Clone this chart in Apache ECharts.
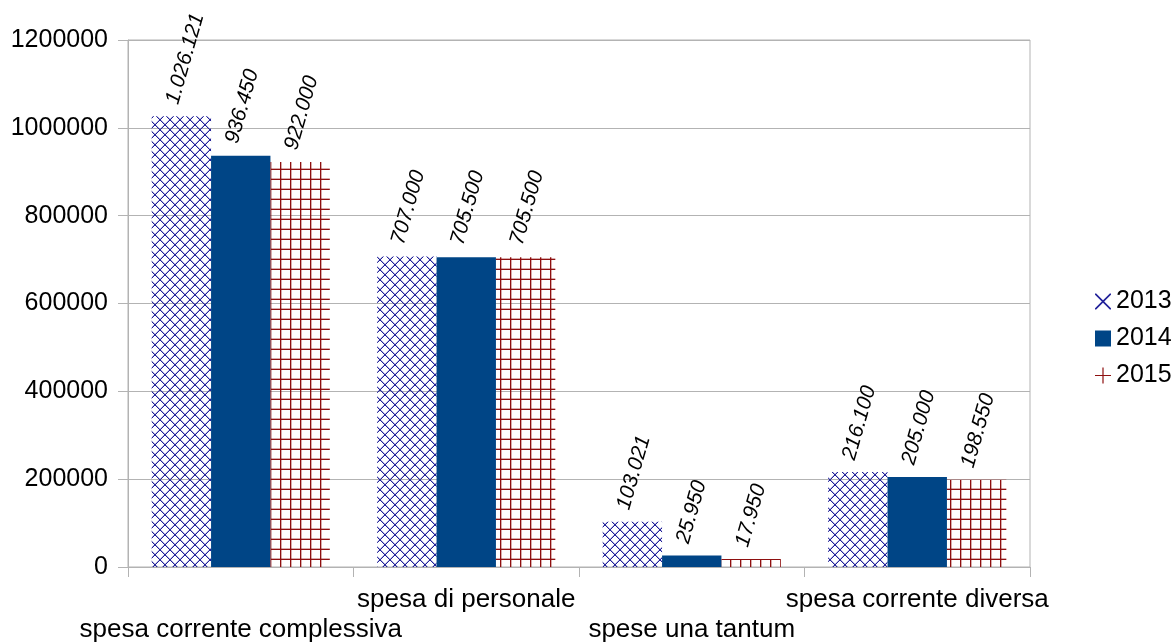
<!DOCTYPE html>
<html>
<head>
<meta charset="utf-8">
<title>spesa</title>
<script src="https://cdn.jsdelivr.net/npm/echarts@6/dist/echarts.min.js"></script>
<style>
  html, body { margin: 0; padding: 0; background: #fff; }
  #chart { width: 1175px; height: 643px; }
</style>
</head>
<body>
<div id="chart"></div>
<script>
var categories = ['spesa corrente complessiva', 'spesa di personale', 'spese una tantum', 'spesa corrente diversa']
var years = ['2013', '2014', '2015']
var values2013 = [1026121, 707000, 103021, 216100]
var values2014 = [936450, 705500, 25950, 205000]
var values2015 = [922000, 705500, 17950, 198550]
var yTicks = [0, 200000, 400000, 600000, 800000, 1000000, 1200000]

var FONT = 'Liberation Sans, Arial, sans-serif'
var GREY = '#b3b3b3'
var NAVY = '#22229a'
var DARKRED = '#8e1010'

// hatch fills like the office chart, drawn pixel by pixel (no antialias)
function crossHatch() {
  var n = 10
  var c = document.createElement('canvas')
  c.width = n
  c.height = n
  var ctx = c.getContext('2d')
  for (var i = 0; i < n; i++) {
    ctx.fillStyle = NAVY
    ctx.fillRect(i, i, 1, 1)
    ctx.fillRect(n - 1 - i, i, 1, 1)
    ctx.fillStyle = 'rgba(34,34,154,0.35)'
    ctx.fillRect((i + 1) % n, i, 1, 1)
    ctx.fillRect((2 * n - 2 - i) % n, i, 1, 1)
  }
  return c
}
function gridHatch() {
  var n = 10
  var c = document.createElement('canvas')
  c.width = n
  c.height = n
  var ctx = c.getContext('2d')
  ctx.fillStyle = DARKRED
  ctx.fillRect(0, 0, 1, n)
  ctx.fillRect(0, n - 1, n, 1)
  ctx.fillStyle = 'rgba(142,16,16,0.35)'
  ctx.fillRect(1, 0, 1, n - 1)
  ctx.fillRect(1, n - 2, n - 1, 1)
  return c
}

function fmt(v) {
  return String(v).replace(/\B(?=(\d{3})+(?!\d))/g, '.')
}

// offset is in the rotated frame of the label
var barLabel = {
  show: true,
  position: 'top',
  distance: 6,
  offset: [4, -10.5],
  rotate: 74,
  align: 'left',
  verticalAlign: 'middle',
  fontStyle: 'italic',
  fontSize: 21,
  fontFamily: FONT,
  color: '#000',
  formatter: function (p) { return fmt(p.value) }
}

var chart = echarts.init(document.getElementById('chart'))
chart.setOption({
  animation: false,
  grid: {
    left: 128,
    right: 145,
    top: 40,
    bottom: 76,
    outerBoundsMode: 'none',
    containLabel: false,
    show: true,
    borderColor: GREY,
    borderWidth: 1
  },
  legend: {
    orient: 'vertical',
    left: 1090,
    top: 284,
    itemWidth: 16,
    itemHeight: 16,
    itemGap: 12,
    textStyle: { fontSize: 25, fontFamily: FONT, color: '#000' },
    data: [
      {
        name: '2013',
        icon: 'path://M0,0 L1.2,0 L16,14.8 L16,16 L14.8,16 L0,1.2 Z M16,0 L16,1.2 L1.2,16 L0,16 L0,14.8 L14.8,0 Z',
        itemStyle: { color: NAVY }
      },
      { name: '2014', icon: 'rect', itemStyle: { color: '#004586' } },
      {
        name: '2015',
        icon: 'path://M7.4,0 L8.6,0 L8.6,7.4 L16,7.4 L16,8.6 L8.6,8.6 L8.6,16 L7.4,16 L7.4,8.6 L0,8.6 L0,7.4 L7.4,7.4 Z',
        itemStyle: { color: DARKRED }
      }
    ]
  },
  xAxis: {
    type: 'category',
    data: categories,
    axisLine: { lineStyle: { color: GREY } },
    axisTick: { show: true, length: 10, lineStyle: { color: GREY } },
    axisLabel: {
      interval: 0,
      margin: 18,
      fontSize: 26,
      lineHeight: 30,
      fontFamily: FONT,
      color: '#000',
      // staggered labels, first one on the lower row
      formatter: function (v, i) { return i % 2 === 0 ? '\n' + v : v }
    }
  },
  yAxis: {
    type: 'value',
    min: yTicks[0],
    max: yTicks[yTicks.length - 1],
    interval: yTicks[1] - yTicks[0],
    axisLine: { show: true, lineStyle: { color: GREY } },
    axisTick: { show: true, length: 10, lineStyle: { color: GREY } },
    splitLine: { lineStyle: { color: GREY } },
    axisLabel: {
      margin: 20,
      fontSize: 25,
      fontFamily: FONT,
      color: '#000',
      formatter: function (v) { return String(v) }
    }
  },
  series: [
    {
      name: years[0],
      type: 'bar',
      data: values2013,
      barGap: '0%',
      barCategoryGap: '21%',
      itemStyle: { color: { image: crossHatch(), repeat: 'repeat' } },
      label: barLabel
    },
    {
      name: years[1],
      type: 'bar',
      data: values2014,
      itemStyle: { color: '#004586' },
      label: barLabel
    },
    {
      name: years[2],
      type: 'bar',
      data: values2015,
      itemStyle: { color: { image: gridHatch(), repeat: 'repeat' } },
      label: barLabel
    }
  ]
})
</script>
</body>
</html>
